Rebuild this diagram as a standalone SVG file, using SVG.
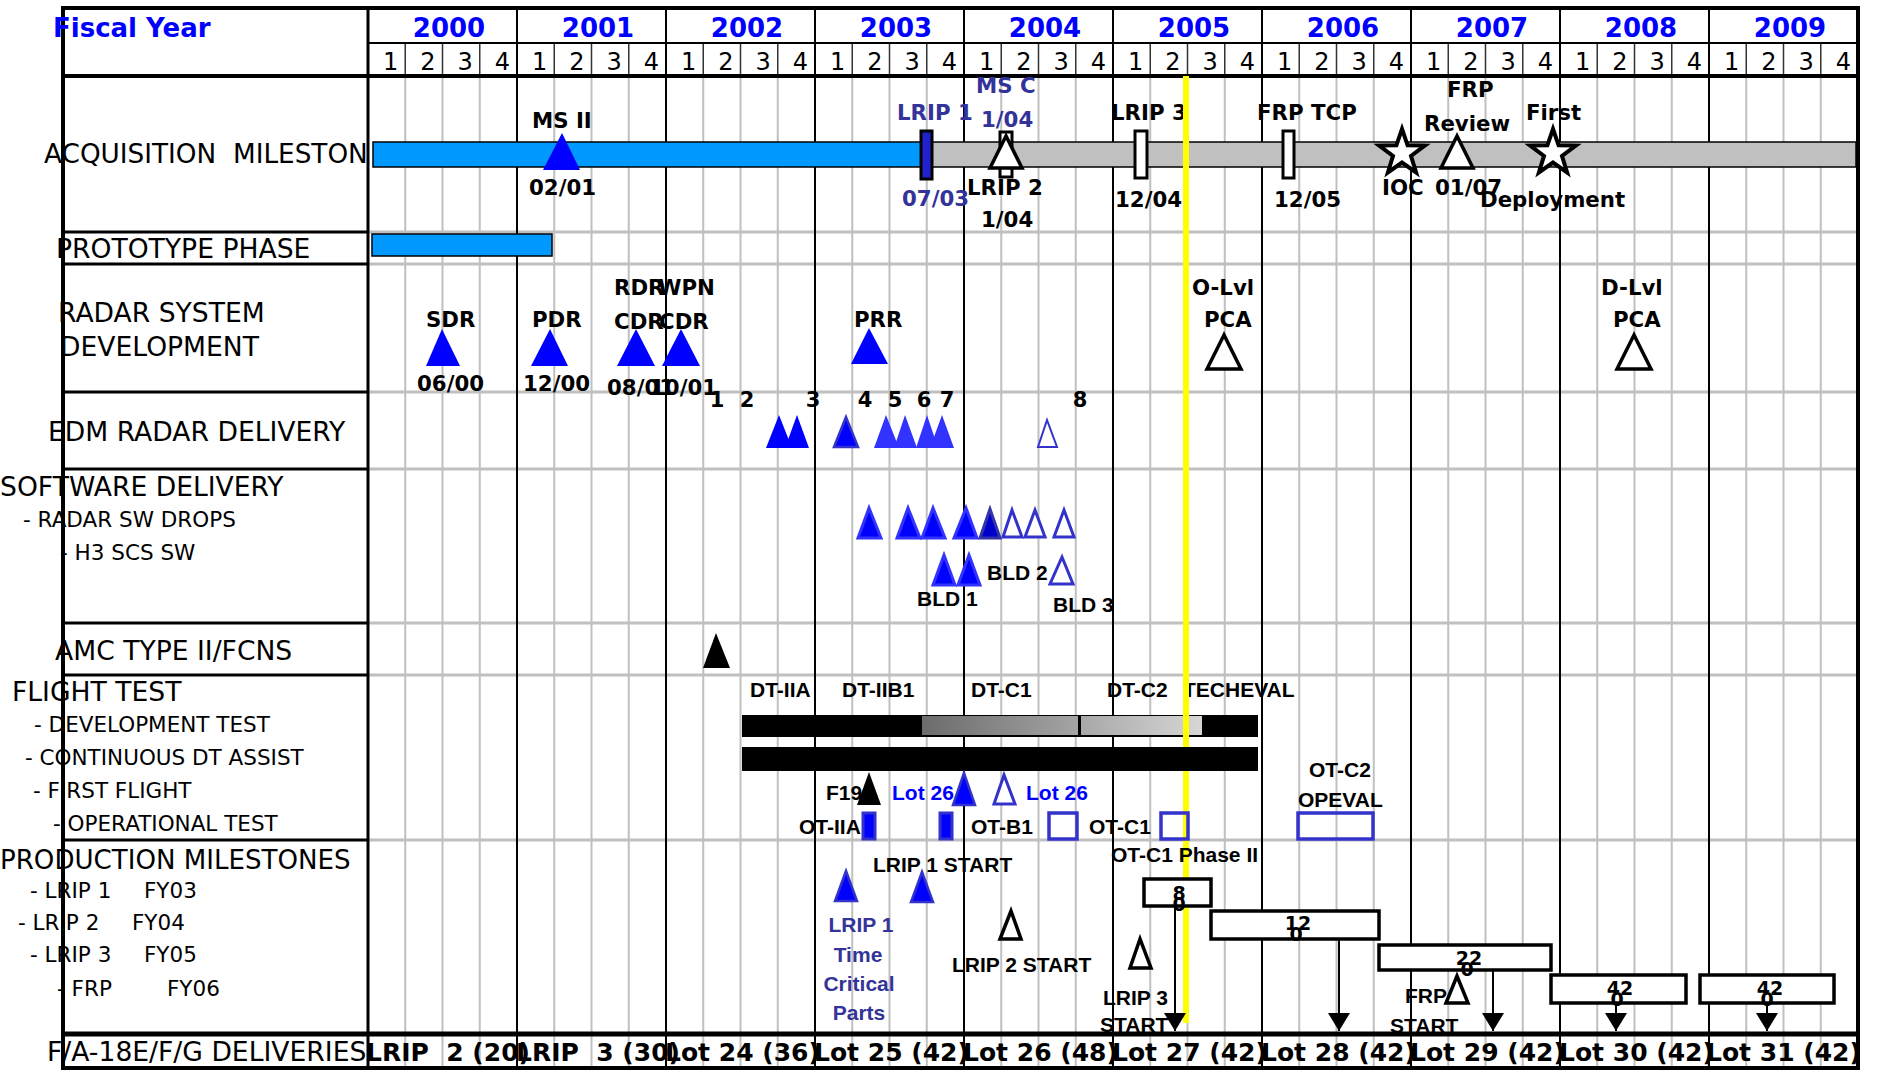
<svg xmlns="http://www.w3.org/2000/svg" width="1880" height="1070" viewBox="0 0 1880 1070">
<defs>
<style>
text{font-family:"DejaVu Sans","Liberation Sans",sans-serif;fill:#000;}
.lb{font-size:26.6px;}
.sl{font-size:21.5px;}
.yr{font-size:26px;font-weight:bold;fill:#0000ff;text-anchor:middle;}
.q{font-size:24px;text-anchor:middle;}
.b{font-size:21.3px;font-weight:bold;}
.bc{font-size:21px;font-weight:bold;text-anchor:middle;}
.a{font-family:"Liberation Sans",Arial,sans-serif;font-size:21px;font-weight:bold;}
.dk{fill:#333399;}
.bl{fill:#0000ff;}
.dv{font-size:25px;font-weight:bold;}
.bn{font-size:19px;font-weight:bold;text-anchor:middle;}
.grid{stroke:#c0c0c0;stroke-width:2;fill:none;}
.hq{stroke:#333;stroke-width:1.5;fill:none;}
.yl{stroke:#000;stroke-width:2;fill:none;}
.sep{stroke:#c0c0c0;stroke-width:3;fill:none;}
.sepk{stroke:#000;stroke-width:3;fill:none;}
.tri{fill:#0000ff;}
.trib{fill:#0000ff;stroke:#3333ff;stroke-width:3;}
.trid{fill:#0000ff;stroke:#3333cc;stroke-width:2.5;}
.tril{fill:#3333ff;}
.trio{fill:#fff;stroke:#3333cc;stroke-width:3;}
.trik{fill:#fff;stroke:#000;stroke-width:3.5;}
.box{fill:#fff;stroke:#000;stroke-width:3.5;}
.mk{fill:#fff;stroke:#000;stroke-width:3;}
.bar{fill:#0099ff;stroke:#000;stroke-width:1.5;}
.otf{fill:#0000ff;stroke:#3333cc;stroke-width:3;}
.oto{fill:none;stroke:#3333cc;stroke-width:3.5;}
.conn{stroke:#000;stroke-width:2;fill:none;marker-end:url(#arr);}
</style>
<marker id="arr" markerUnits="userSpaceOnUse" markerWidth="20" markerHeight="22" refX="18" refY="11" orient="auto"><path d="M0,0 L18,11 L0,22 z" fill="#000"/></marker>
<path id="star" d="M0,-24 L5.6,-7.7 L22.8,-7.4 L9,2.9 L14.1,19.4 L0,9.5 L-14.1,19.4 L-9,2.9 L-22.8,-7.4 L-5.6,-7.7 Z"/>
<linearGradient id="g1" x1="0" x2="1" y1="0" y2="0"><stop offset="0" stop-color="#6c6c6c"/><stop offset="1" stop-color="#a4a4a4"/></linearGradient>
<linearGradient id="g2" x1="0" x2="1" y1="0" y2="0"><stop offset="0" stop-color="#a8a8a8"/><stop offset="1" stop-color="#d6d6d6"/></linearGradient>
</defs>
<rect width="1880" height="1070" fill="#fff"/>

<g id="grid">
<path class="grid" d="M405.25 76V1066M442.5 76V1066M479.75 76V1066M554.25 76V1066M591.5 76V1066M628.75 76V1066M703.25 76V1066M740.5 76V1066M777.75 76V1066M852.25 76V1066M889.5 76V1066M926.75 76V1066M1001.25 76V1066M1038.5 76V1066M1075.75 76V1066M1150.25 76V1066M1187.5 76V1066M1224.75 76V1066M1299.25 76V1066M1336.5 76V1066M1373.75 76V1066M1448.25 76V1066M1485.5 76V1066M1522.75 76V1066M1597.25 76V1066M1634.5 76V1066M1671.75 76V1066M1746.25 76V1066M1783.5 76V1066M1820.75 76V1066"/>
<path class="hq" d="M405.25 44V76M442.5 44V76M479.75 44V76M554.25 44V76M591.5 44V76M628.75 44V76M703.25 44V76M740.5 44V76M777.75 44V76M852.25 44V76M889.5 44V76M926.75 44V76M1001.25 44V76M1038.5 44V76M1075.75 44V76M1150.25 44V76M1187.5 44V76M1224.75 44V76M1299.25 44V76M1336.5 44V76M1373.75 44V76M1448.25 44V76M1485.5 44V76M1522.75 44V76M1597.25 44V76M1634.5 44V76M1671.75 44V76M1746.25 44V76M1783.5 44V76M1820.75 44V76"/>
<path class="sep" d="M368 232H1858M368 264H1858M368 392H1858M368 469H1858M368 623H1858M368 675H1858M368 840H1858"/>
<path class="sepk" d="M63 232H368M63 264H368M63 392H368M63 469H368M63 623H368M63 675H368M63 840H368"/>
<path class="yl" d="M517 8V1068M666 8V1068M815 8V1068M964 8V1068M1113 8V1068M1262 8V1068M1411 8V1068M1560 8V1068M1709 8V1068"/>
<path stroke="#000" stroke-width="2" fill="none" d="M368 43H1858"/>
<path stroke="#000" stroke-width="4" fill="none" d="M63 76H1858"/>
<path stroke="#000" stroke-width="5" fill="none" d="M63 1034H1858"/>
<path stroke="#000" stroke-width="3" fill="none" d="M368 8V1068"/>
<rect x="63" y="8" width="1795" height="1060" fill="none" stroke="#000" stroke-width="4"/>
</g>

<g id="header">
<text x="53" y="37" style="font-size:26px;font-weight:bold;fill:#0000ff">Fiscal Year</text>
<text class="yr" x="449" y="37">2000</text>
<text class="yr" x="598" y="37">2001</text>
<text class="yr" x="747" y="37">2002</text>
<text class="yr" x="896" y="37">2003</text>
<text class="yr" x="1045" y="37">2004</text>
<text class="yr" x="1194" y="37">2005</text>
<text class="yr" x="1343" y="37">2006</text>
<text class="yr" x="1492" y="37">2007</text>
<text class="yr" x="1641" y="37">2008</text>
<text class="yr" x="1790" y="37">2009</text>
<text class="q" y="70" x="390.6 427.9 465.1 502.4 539.6 576.9 614.1 651.4 688.6 725.9 763.1 800.4 837.6 874.9 912.1 949.4 986.6 1023.9 1061.1 1098.4 1135.6 1172.9 1210.1 1247.4 1284.6 1321.9 1359.1 1396.4 1433.6 1470.9 1508.1 1545.4 1582.6 1619.9 1657.1 1694.4 1731.6 1768.9 1806.1 1843.4">1234123412341234123412341234123412341234</text>
</g>

<g id="row-labels">
<text class="lb" x="44" y="163" style="font-size:26.3px" xml:space="preserve">ACQUISITION  MILESTON</text>
<text class="lb" x="56" y="258">PROTOTYPE PHASE</text>
<text class="lb" x="58" y="322">RADAR SYSTEM</text>
<text class="lb" x="60" y="356">DEVELOPMENT</text>
<text class="lb" x="48" y="441">EDM RADAR DELIVERY</text>
<text class="lb" x="0" y="496">SOFTWARE DELIVERY</text>
<text class="sl" x="23" y="527">- RADAR SW DROPS</text>
<text class="sl" x="60" y="560">- H3 SCS SW</text>
<text class="lb" x="55" y="660">AMC TYPE II/FCNS</text>
<text class="lb" x="12" y="701">FLIGHT TEST</text>
<text class="sl" x="34" y="732">- DEVELOPMENT TEST</text>
<text class="sl" x="25" y="765">- CONTINUOUS DT ASSIST</text>
<text class="sl" x="33" y="798">- FIRST FLIGHT</text>
<text class="sl" x="53" y="831">- OPERATIONAL TEST</text>
<text class="lb" x="0" y="869" style="font-size:26.1px">PRODUCTION MILESTONES</text>
<text class="sl" y="898"><tspan x="30">- LRIP 1</tspan><tspan x="144">FY03</tspan></text>
<text class="sl" y="930"><tspan x="18">- LRIP 2</tspan><tspan x="132">FY04</tspan></text>
<text class="sl" y="962"><tspan x="30">- LRIP 3</tspan><tspan x="144">FY05</tspan></text>
<text class="sl" y="996"><tspan x="57">- FRP</tspan><tspan x="167">FY06</tspan></text>
<text class="lb" x="47" y="1061">F/A-18E/F/G DELIVERIES</text>
</g>

<g id="acq-bar">
<rect class="bar" x="373" y="142" width="550" height="25"/>
<rect x="923" y="142" width="933" height="25" fill="#c0c0c0" stroke="#000" stroke-width="1.5"/>
</g>
<g id="prototype-bar"><rect class="bar" x="372" y="234" width="180" height="22"/></g>

<g id="ms-ii">
<polygon class="tri" points="562,133 543,170 580,170"/>
<text class="b" x="532" y="128">MS II</text>
<text class="b" x="529" y="195">02/01</text>
</g>
<g id="lrip1">
<rect x="921" y="131" width="11" height="48" fill="#2222cc" stroke="#000" stroke-width="3"/>
<text class="b dk" x="897" y="120">LRIP 1</text>
<text class="b dk" x="902" y="206">07/03</text>
</g>
<g id="ms-c-lrip2">
<rect class="mk" x="1000" y="132" width="12" height="45"/>
<polygon class="trik" points="1006,136 990,168 1022,168"/>
<text class="b dk" x="976" y="93">MS C</text>
<text class="b dk" x="981" y="127">1/04</text>
<text class="b" x="967" y="195">LRIP 2</text>
<text class="b" x="981" y="227">1/04</text>
</g>
<g id="lrip3">
<rect class="mk" x="1135" y="131" width="12" height="47"/>
<text class="b" x="1111" y="120">LRIP 3</text>
<text class="b" x="1115" y="207">12/04</text>
</g>
<g id="frp-tcp">
<rect class="mk" x="1283" y="131" width="11" height="47"/>
<text class="b" x="1257" y="120">FRP TCP</text>
<text class="b" x="1274" y="207">12/05</text>
</g>
<g id="ioc">
<use href="#star" x="1402" y="153" fill="#fff" stroke="#000" stroke-width="4"/>
<text class="b" x="1382" y="195">IOC</text>
</g>
<g id="frp-review">
<polygon class="trik" points="1457,136 1441,168 1473,168"/>
<text class="b" x="1447" y="97">FRP</text>
<text class="b" x="1424" y="131">Review</text>
<text class="b" x="1435" y="195">01/07</text>
</g>
<g id="first-deployment">
<use href="#star" x="1553" y="153" fill="#fff" stroke="#000" stroke-width="4"/>
<text class="b" x="1526" y="120">First</text>
<text class="b" x="1480" y="207">Deployment</text>
</g>

<g id="sdr">
<polygon class="tri" points="442,329 426,366 460,366"/>
<text class="b" x="426" y="327">SDR</text>
<text class="b" x="417" y="391">06/00</text>
</g>
<g id="pdr">
<polygon class="tri" points="550,329 531,366 568,366"/>
<text class="b" x="532" y="327">PDR</text>
<text class="b" x="523" y="391">12/00</text>
</g>
<g id="rdr-cdr">
<polygon class="tri" points="636,329 617,366 655,366"/>
<text class="b" x="614" y="295">RDR</text>
<text class="b" x="614" y="329">CDR</text>
<text class="b" x="607" y="395">08/01</text>
</g>
<g id="wpn-cdr">
<polygon class="tri" points="681,329 662,366 700,366"/>
<text class="b" x="658" y="295">WPN</text>
<text class="b" x="659" y="329">CDR</text>
<text class="b" x="650" y="395">10/01</text>
</g>
<g id="prr">
<polygon class="tri" points="869,328 851,364 888,364"/>
<text class="b" x="854" y="327">PRR</text>
</g>
<g id="o-lvl-pca">
<polygon class="trik" points="1224,335 1207,369 1241,369"/>
<text class="b" x="1192" y="295">O-Lvl</text>
<text class="b" x="1204" y="327">PCA</text>
</g>
<g id="d-lvl-pca">
<polygon class="trik" points="1634,335 1617,369 1651,369"/>
<text class="b" x="1601" y="295">D-Lvl</text>
<text class="b" x="1613" y="327">PCA</text>
</g>

<g id="edm-deliveries">
<text class="bc" y="407" x="717 747 813 865 895 924 947 1080">12345678</text>
<polygon class="tri" points="779,415 766,448 792,448"/>
<polygon class="tri" points="797,415 785,448 809,448"/>
<polygon class="trid" points="846,417 834,447 858,447"/>
<polygon class="tril" points="886,415 874,448 899,448"/>
<polygon class="tril" points="905,415 894,448 917,448"/>
<polygon class="tril" points="927,415 916,448 938,448"/>
<polygon class="tril" points="942,415 930,448 954,448"/>
<polygon fill="#fff" stroke="#3333cc" stroke-width="2" points="1047,420 1038,447 1057,447"/>
</g>

<g id="radar-sw-drops">
<polygon class="trib" points="869,508 858,538 881,538"/>
<polygon class="trib" points="908,508 897,538 920,538"/>
<polygon class="trib" points="933,508 922,538 945,538"/>
<polygon class="trib" points="966,508 954,538 977,538"/>
<polygon fill="#0000cc" stroke="#3333aa" stroke-width="3" points="990,509 980,538 1000,538"/>
<polygon class="trio" points="1012,510 1003,537 1022,537"/>
<polygon class="trio" points="1035,510 1025,537 1045,537"/>
<polygon class="trio" points="1064,510 1054,537 1074,537"/>
</g>
<g id="h3-scs-sw">
<polygon class="trib" points="944,555 933,585 955,585"/>
<polygon class="trib" points="969,555 958,585 980,585"/>
<polygon class="trio" points="1062,557 1050,584 1073,584"/>
<text class="a" x="917" y="606">BLD 1</text>
<text class="a" x="987" y="580">BLD 2</text>
<text class="a" x="1053" y="612">BLD 3</text>
</g>

<g id="amc"><polygon fill="#000" points="716,633 703,668 730,668"/></g>

<g id="development-test">
<text class="a" x="750" y="697">DT-IIA</text>
<text class="a" x="842" y="697">DT-IIB1</text>
<text class="a" x="971" y="697">DT-C1</text>
<text class="a" x="1107" y="697">DT-C2</text>
<text class="a" x="1183" y="697">TECHEVAL</text>
<rect x="742" y="715" width="516" height="22" fill="#000"/>
<rect x="922" y="716" width="156" height="19" fill="url(#g1)"/>
<rect x="1081" y="716" width="121" height="19" fill="url(#g2)"/>
</g>

<g id="today-line"><path d="M1186 76V1023" stroke="#ffff00" stroke-width="6" fill="none"/></g>

<g id="continuous-dt"><rect x="742" y="747" width="516" height="24" fill="#000"/></g>

<g id="first-flight">
<polygon fill="#000" points="869,772 857,805 881,805"/>
<text class="a" x="826" y="800">F19</text>
<polygon class="trid" points="964,773 953,805 975,805"/>
<text class="a bl" x="892" y="800">Lot 26</text>
<polygon class="trio" points="1004,775 994,804 1015,804"/>
<text class="a bl" x="1026" y="800">Lot 26</text>
</g>
<g id="operational-test">
<text class="a" x="799" y="834">OT-IIA</text>
<rect class="otf" x="863" y="813" width="12" height="26"/>
<rect class="otf" x="940" y="813" width="12" height="26"/>
<text class="a" x="971" y="834">OT-B1</text>
<rect class="oto" x="1049" y="813" width="28" height="26"/>
<text class="a" x="1089" y="834">OT-C1</text>
<rect class="oto" x="1161" y="813" width="27" height="26"/>
<text class="a" x="1309" y="777">OT-C2</text>
<text class="a" x="1298" y="807">OPEVAL</text>
<rect class="oto" x="1298" y="813" width="75" height="26"/>
</g>

<g id="lrip1-tcp">
<polygon class="trid" points="846,871 835,901 857,901"/>
<text class="a dk" x="861" y="932" text-anchor="middle">LRIP 1</text>
<text class="a dk" x="858" y="962" text-anchor="middle">Time</text>
<text class="a dk" x="859" y="991" text-anchor="middle">Critical</text>
<text class="a dk" x="859" y="1020" text-anchor="middle">Parts</text>
</g>
<g id="lrip1-start">
<polygon class="trid" points="922,872 911,902 933,902"/>
<text class="a" x="873" y="872">LRIP 1 START</text>
</g>
<g id="lrip2-start">
<polygon class="trik" points="1011,911 1000,939 1021,939"/>
<text class="a" x="952" y="972">LRIP 2 START</text>
</g>
<g id="lrip3-start">
<polygon class="trik" points="1140,939 1130,968 1151,968"/>
<text class="a" x="1103" y="1005">LRIP 3</text>
<text class="a" x="1100" y="1032">START</text>
</g>
<g id="ot-c1-phase2"><text class="a" x="1111" y="862">OT-C1 Phase II</text></g>
<g id="frp-start">
<polygon class="trik" points="1457,976 1446,1003 1468,1003"/>
<text class="a" x="1405" y="1003">FRP</text>
<text class="a" x="1390" y="1033">START</text>
</g>

<g id="connectors">
<path class="conn" d="M1175 906V1031"/>
<path class="conn" d="M1339 939V1031"/>
<path class="conn" d="M1493 970V1031"/>
<path class="conn" d="M1616 1003V1031"/>
<path class="conn" d="M1767 1003V1031"/>
</g>

<g id="lot-27-box"><rect class="box" x="1144" y="879" width="67" height="27"/><text class="bn" x="1179" y="900">8</text><text class="bn" x="1179" y="911">0</text></g>
<g id="lot-28-box"><rect class="box" x="1211" y="911" width="168" height="28"/><text class="bn" x="1298" y="930">12</text><text class="bn" x="1296" y="941">0</text></g>
<g id="lot-29-box"><rect class="box" x="1379" y="945" width="172" height="25"/><text class="bn" x="1469" y="965">22</text><text class="bn" x="1467" y="976">0</text></g>
<g id="lot-30-box"><rect class="box" x="1551" y="975" width="135" height="28"/><text class="bn" x="1620" y="995">42</text><text class="bn" x="1617" y="1006">0</text></g>
<g id="lot-31-box"><rect class="box" x="1700" y="975" width="134" height="28"/><text class="bn" x="1770" y="995">42</text><text class="bn" x="1767" y="1006">0</text></g>

<g id="deliveries">
<text class="dv" x="366" y="1061" xml:space="preserve">LRIP  2 (20)</text>
<text class="dv" x="516" y="1061" xml:space="preserve">LRIP  3 (30)</text>
<text class="dv" x="665" y="1061">Lot 24 (36)</text>
<text class="dv" x="814" y="1061">Lot 25 (42)</text>
<text class="dv" x="963" y="1061">Lot 26 (48)</text>
<text class="dv" x="1112" y="1061">Lot 27 (42)</text>
<text class="dv" x="1261" y="1061">Lot 28 (42)</text>
<text class="dv" x="1410" y="1061">Lot 29 (42)</text>
<text class="dv" x="1559" y="1061">Lot 30 (42)</text>
<text class="dv" x="1706" y="1061">Lot 31 (42)</text>
</g>
</svg>
